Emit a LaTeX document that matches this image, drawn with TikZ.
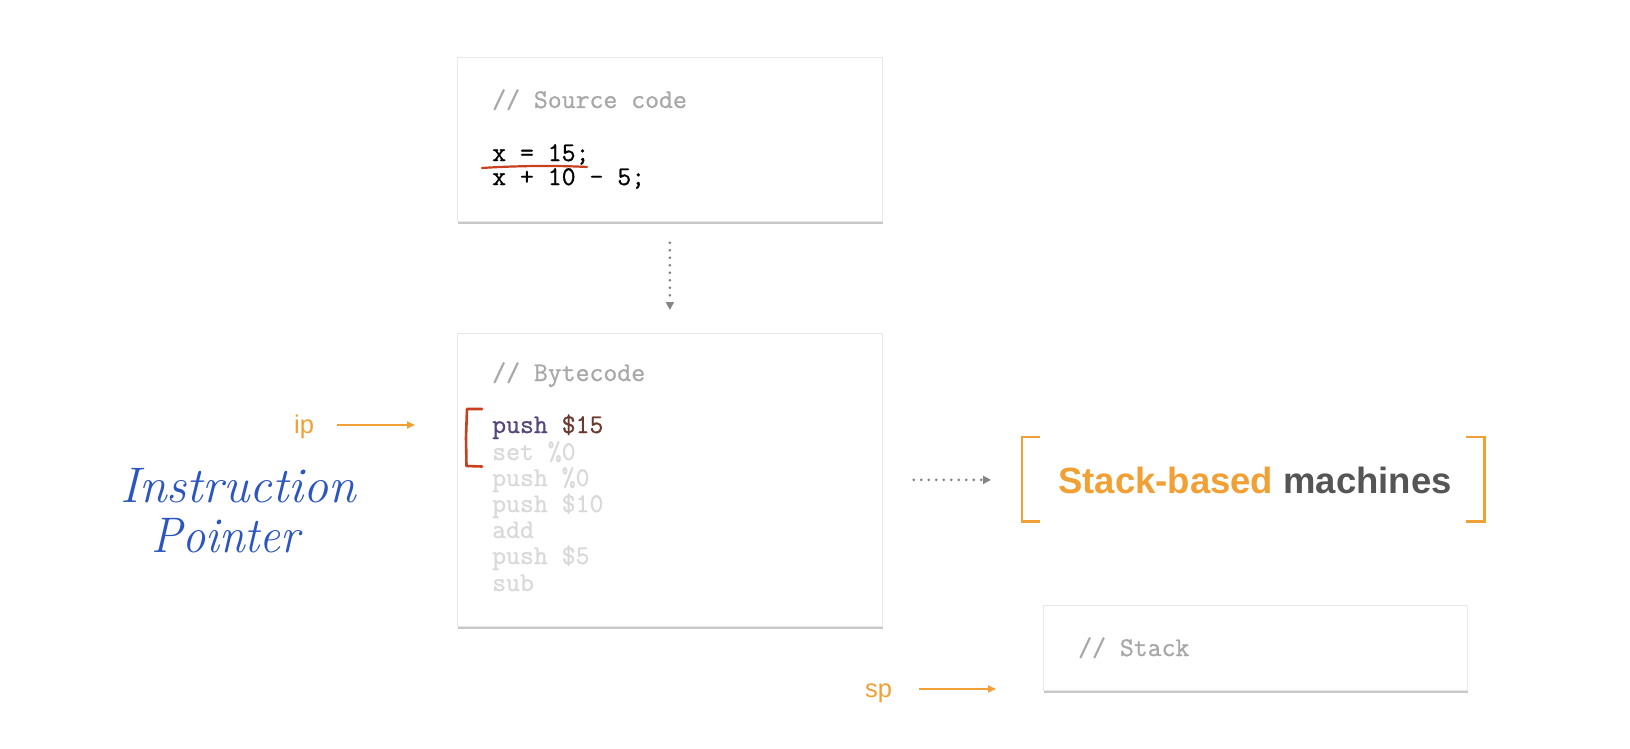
\documentclass[tikz,border=0pt]{standalone}
\usepackage{fontspec}
\setmainfont{Latin Modern Roman}
\setmonofont[FakeBold=0.9]{Latin Modern Mono}
\newfontfamily\hv{Liberation Sans}
\usetikzlibrary{arrows.meta}

\definecolor{orng}{HTML}{F0A035}
\definecolor{cmt}{HTML}{A8A8A8}
\definecolor{faint}{HTML}{D9D9D9}
\definecolor{ink}{HTML}{2B55C0}
\definecolor{redpen}{HTML}{C8401E}
\definecolor{kw}{HTML}{56467A}
\definecolor{num}{HTML}{6B3A2E}
\definecolor{dark}{HTML}{555555}

\tikzset{
  panel/.style={draw=black!9, fill=white, line width=0.8pt, anchor=north west,
    inner sep=0pt,
    preaction={fill=black!22, transform canvas={xshift=0.6pt, yshift=-2.2pt}}},
  code/.style={font=\fontsize{27}{26}\selectfont\ttfamily, anchor=base west, inner sep=0pt},
  label/.style={font=\hv\fontsize{25.5}{28}\selectfont, text=orng, anchor=base west, inner sep=0pt},
  orarrow/.style={draw=orng, line width=1.8pt, -{Triangle[length=8pt,width=7pt]}},
  flow/.style={draw=black!48, line width=3pt, line cap=round,
    dash pattern=on 0pt off 7.5pt, -{Triangle[length=8pt,width=8pt,line cap=butt]}},
  pen/.style={draw=redpen, line width=2.6pt, line cap=round, line join=round},
  hand/.style={font=\fontsize{50}{56}\selectfont\itshape, text=ink, anchor=base west, inner sep=0pt},
  bracket/.style={draw=orng, line width=2.4pt}
}

\begin{document}
\begin{tikzpicture}[x=1pt, y=-1pt]
  \fill[white] (0,0) rectangle (1630,749);
  \useasboundingbox (0,0) rectangle (1630,749);

  % source code panel
  \node[panel, minimum width=425pt, minimum height=164pt] (src) at (457,57) {};
  \node[code, text=cmt] (srcc) at (492,108) {// Source code};
  \node[code, text=black] (l1) at (492,161) {x = 15;};
  \node[code, text=black] (l2) at (492,185) {x + 10 - 5;};
  \draw[pen, line width=2.2pt] (482,168) .. controls (520,165.5) and (560,165.5) .. (587,167);

  % bytecode panel
  \node[panel, minimum width=425pt, minimum height=293pt] (byte) at (457,333) {};
  \node[code, text=cmt] (bc) at (492,381) {// Bytecode};
  \node[code] (b1) at (492,433) {\textcolor{kw}{push} \textcolor{num}{\$15}};
  \node[code, text=faint] (b2) at (492,460) {set \%0};
  \node[code, text=faint] (b3) at (492,486) {push \%0};
  \node[code, text=faint] (b4) at (492,512) {push \$10};
  \node[code, text=faint] (b5) at (492,538) {add};
  \node[code, text=faint] (b6) at (492,564) {push \$5};
  \node[code, text=faint] (b7) at (492,591) {sub};
  \draw[pen] (482,409) -- (467,409) -- (466,438) -- (466.5,466) -- (482,466.5);

  \draw[flow, shorten <=21pt, shorten >=23pt] (src.south) -- (byte.north);

  % instruction pointer
  \node[label] (ip) at (294,433) {ip};
  \coordinate (iptip) at (415,425);
  \draw[orarrow, shorten <=23pt] (ip.east |- iptip) -- (iptip);
  \node[hand] (instr) at (120,502) {Instruction};
  \node[hand, xscale=0.93] (ptr) at (151,552) {Pointer};

  % stack-based machines
  \node[minimum width=462pt, minimum height=84pt, anchor=north west, inner sep=0pt] (sbm) at (1022,437) {};
  \draw[bracket] ([xshift=18pt]sbm.north west) -- (sbm.north west) -- (sbm.south west) -- ([xshift=18pt]sbm.south west);
  \draw[bracket] ([xshift=-18pt]sbm.north east) -- (sbm.north east) -- (sbm.south east) -- ([xshift=-18pt]sbm.south east);
  \node[font=\hv\bfseries\fontsize{36.5}{40}\selectfont, anchor=base west, inner sep=0pt] (sbt) at (1058,493)
    {\textcolor{orng}{Stack-based} \textcolor{dark}{machines}};
  \draw[flow, shorten <=31pt, shorten >=31pt] (byte.east) -- (byte.east -| sbm.west);

  % stack panel
  \node[panel, minimum width=424pt, minimum height=85pt] (stack) at (1043,605) {};
  \node[code, text=cmt] (stc) at (1078,656) {// Stack};

  % stack pointer
  \node[label] (sp) at (865,697) {sp};
  \coordinate (sptip) at (996,689);
  \draw[orarrow, shorten <=27pt] (sp.east |- sptip) -- (sptip);
\end{tikzpicture}
\end{document}
